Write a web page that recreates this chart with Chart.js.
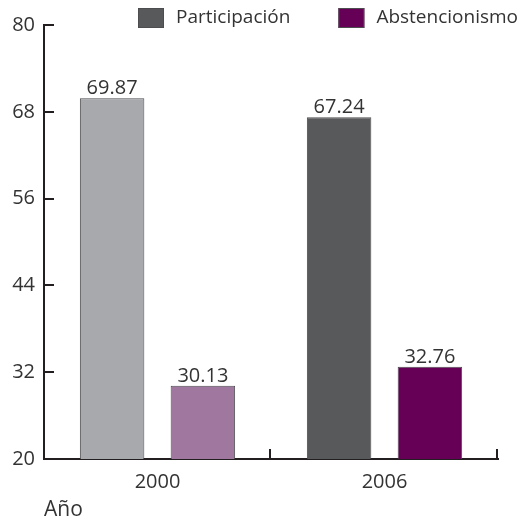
<!DOCTYPE html>
<html lang="es">
<head>
  <meta charset="UTF-8" />
  <title>Participación y abstencionismo</title>
  <script src="https://cdn.jsdelivr.net/npm/chart.js"></script>
  <style>
    body { margin: 0; background: #fff; }
    #wrap { width: 522px; height: 523px; position: relative; }
  </style>
</head>
<body>
  <div id="wrap"><canvas id="chartVotos"></canvas></div>

  <script>
    const anios = ["2000", "2006"];
    const participacion = [69.87, 67.24];
    const abstencionismo = [30.13, 32.76];
    const yMin = 20, yMax = 80, yPaso = 12;

    const FONT = "'Open Sans', sans-serif";
    const TXT = "#333333";
    const EJE = "#231f20";

    // etiquetas de valor sobre las barras
    const etiquetas = {
      id: "etiquetas",
      afterDatasetsDraw(chart) {
        const ctx = chart.ctx;
        ctx.save();
        ctx.font = "20px " + FONT;
        ctx.fillStyle = TXT;
        ctx.textAlign = "center";
        ctx.textBaseline = "alphabetic";
        chart.data.datasets.forEach((ds, i) => {
          chart.getDatasetMeta(i).data.forEach((bar, j) => {
            ctx.fillText(ds.data[j].toFixed(2), bar.x, bar.y - 4);
          });
        });
        ctx.restore();
      }
    };

    // marcas hacia dentro en los ejes + leyenda
    const marcas = {
      id: "marcas",
      afterDraw(chart) {
        const ctx = chart.ctx;
        const x = chart.scales.x, y = chart.scales.y;
        const area = chart.chartArea;
        ctx.save();
        ctx.strokeStyle = EJE;
        ctx.lineWidth = 2;
        ctx.beginPath();
        y.ticks.forEach((t, i) => {
          const py = Math.round(y.getPixelForTick(i));
          ctx.moveTo(area.left, py);
          ctx.lineTo(area.left + 10, py);
        });
        const anchoCat = (x.right - x.left) / anios.length;
        anios.forEach((a, i) => {
          const px = Math.round(x.getPixelForValue(i) + anchoCat / 2) - 1;
          ctx.moveTo(px, area.bottom);
          ctx.lineTo(px, area.bottom - 10);
        });
        ctx.stroke();

        ctx.font = "19px " + FONT;
        ctx.textBaseline = "middle";
        ctx.textAlign = "left";
        let lx = 138;
        chart.data.datasets.forEach(ds => {
          ctx.fillStyle = ds.colorLeyenda;
          ctx.fillRect(lx, 8, 26, 20);
          ctx.strokeStyle = "#4d4d4f";
          ctx.lineWidth = 1;
          ctx.strokeRect(lx + 0.5, 8.5, 25, 19);
          ctx.fillStyle = TXT;
          ctx.fillText(ds.label, lx + 38, 18);
          lx += 38 + ctx.measureText(ds.label).width + 48;
        });
        ctx.restore();
      }
    };

    new Chart(document.getElementById("chartVotos"), {
      type: "bar",
      data: {
        labels: anios,
        datasets: [
          {
            label: "Participación",
            data: participacion,
            backgroundColor: ["#a7a9ac", "#58595b"],
            colorLeyenda: "#58595b",
            borderColor: "#4d4d4f",
            borderWidth: 1,
          },
          {
            label: "Abstencionismo",
            data: abstencionismo,
            backgroundColor: ["#a0789f", "#660057"],
            colorLeyenda: "#660057",
            borderColor: "#4d4d4f",
            borderWidth: 1,
          },
        ],
      },
      options: {
        responsive: true,
        maintainAspectRatio: false,
        animation: false,
        layout: { padding: { top: 25, right: 24, left: 0, bottom: 0 } },
        datasets: { bar: { categoryPercentage: 0.8, barPercentage: 0.71 } },
        plugins: {
          legend: { display: false },
          tooltip: { enabled: false },
        },
        scales: {
          x: {
            grid: { display: true, drawOnChartArea: false, drawTicks: false },
            border: { display: true, color: EJE, width: 2 },
            ticks: { color: TXT, font: { family: FONT, size: 20 }, padding: 11 },
            title: {
              display: true,
              text: "Año",
              align: "start",
              color: TXT,
              font: { family: FONT, size: 21 },
              padding: { top: 0, bottom: 0 },
            },
            afterFit: s => { s.height = 64; },
          },
          y: {
            min: yMin,
            max: yMax,
            grid: { display: true, drawOnChartArea: false, drawTicks: false },
            border: { display: true, color: EJE, width: 2 },
            ticks: { stepSize: yPaso, color: TXT, font: { family: FONT, size: 20 }, padding: 9 },
            afterFit: s => { s.width = 44; },
          },
        },
      },
      plugins: [etiquetas, marcas],
    });
  </script>
</body>
</html>
